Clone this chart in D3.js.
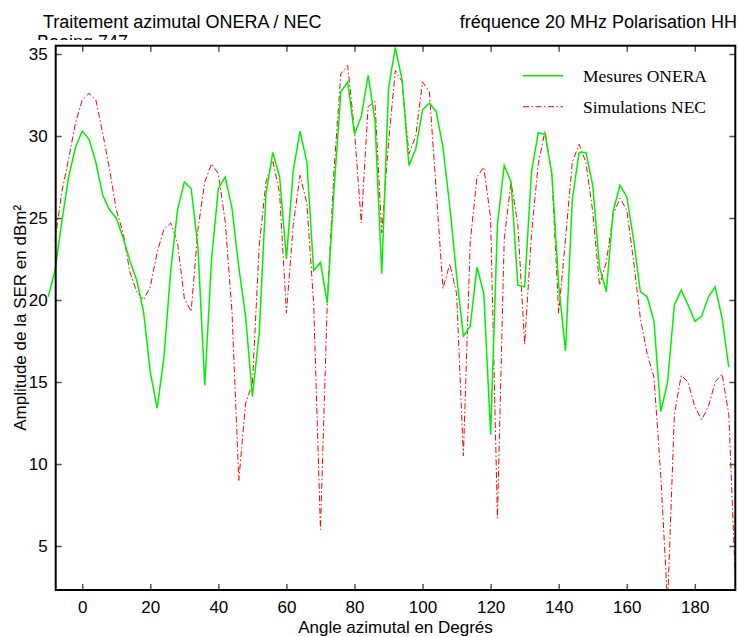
<!DOCTYPE html>
<html>
<head>
<meta charset="utf-8">
<script src="https://cdn.jsdelivr.net/npm/d3@7"></script>
<style>
  body { margin: 0; background: #fff; }
  svg { display: block; }
  .lbl { font-family: "Liberation Sans", Arial, sans-serif; font-size: 17px; fill: #000; }
  .ttl { font-family: "Liberation Sans", Arial, sans-serif; font-size: 18px; fill: #000; }
  .leg { font-family: "Liberation Serif", "Times New Roman", serif; font-size: 17.5px; fill: #000; }
</style>
</head>
<body>
<svg id="chart" width="738" height="637"></svg>
<script>
"use strict";

// green series: ONERA measurements, every 2 degrees from -10 to 190
const mesuresStart = -10;
const mesures = [
  20.2, 21.8, 24.8, 27.5, 29.3, 30.3, 29.8, 28.4, 26.4, 25.5,
  25.0, 23.8, 22.4, 21.2, 19.3, 15.6, 13.4, 16.5, 21.8, 25.5,
  27.2, 26.8, 23.2, 14.8, 22.5, 26.8, 27.5, 25.6, 22.0, 19.0,
  14.1, 18.0, 26.5, 29.0, 27.5, 22.5, 27.9, 30.3, 28.4, 21.8,
  22.3, 19.8, 26.8, 32.7, 33.3, 30.1, 31.2, 33.7, 31.0, 21.6,
  32.9, 35.4, 33.4, 28.2, 29.2, 31.6, 32.0, 31.5, 29.3, 25.7,
  21.5, 17.8, 18.4, 22.0, 20.4, 11.8, 24.6, 28.2, 27.2, 20.9,
  20.8, 27.8, 30.2, 30.1, 27.7, 20.9, 16.9, 26.1, 29.0, 29.0,
  27.0, 22.0, 20.5, 25.4, 27.0, 26.3, 23.7, 20.5, 20.2, 18.7,
  13.2, 15.0, 19.7, 20.6, 19.7, 18.7, 19.0, 20.2, 20.8, 18.9,
  15.9
];

// red series: NEC simulations, every 2 degrees from -8 to 192
const simStart = -8;
const simulations = [
  23.6, 26.6, 28.6, 30.8, 32.2, 32.6, 32.2, 30.2, 28.0, 25.5,
  24.1, 21.7, 20.5, 20.0, 20.8, 22.9, 24.3, 24.7, 23.5, 20.1,
  19.3, 24.3, 27.2, 28.3, 27.7, 24.8, 19.3, 9.0, 13.7, 14.9,
  23.3, 27.2, 28.5, 26.5, 19.2, 24.6, 27.6, 25.9, 19.8, 6.0,
  19.8, 28.0, 33.8, 34.3, 30.3, 24.7, 31.8, 32.1, 24.1, 29.6,
  34.0, 33.3, 28.9, 30.0, 33.3, 32.7, 26.7, 20.7, 22.2, 20.4,
  10.5, 23.5, 27.5, 28.1, 25.0, 6.7, 23.7, 27.2, 24.6, 17.3,
  24.0, 28.3, 30.3, 27.6, 19.2, 23.7, 28.4, 29.5, 28.4, 25.4,
  20.9, 22.3, 25.2, 26.2, 25.5, 22.4, 18.9, 16.7, 15.3, 9.3,
  1.5, 13.0, 15.4, 15.0, 13.5, 12.7, 13.5, 15.0, 15.5, 13.0,
  2.5
];

const xTicks = [0, 20, 40, 60, 80, 100, 120, 140, 160, 180];
const yTicks = [5, 10, 15, 20, 25, 30, 35];
const seriesNames = ["Mesures ONERA", "Simulations NEC"];

const dataM = mesures.map((v, i) => ({ a: mesuresStart + 2 * i, v: v }));
const dataS = simulations.map((v, i) => ({ a: simStart + 2 * i, v: v }));

const box = { left: 55.7, right: 735.3, top: 45.7, bottom: 590 };

const xScale = d3.scaleLinear().domain([-7.8, 191.9]).range([box.left, box.right]);
const yScale = d3.scaleLinear().domain([2.317, 35.506]).range([box.bottom, box.top]);

const svg = d3.select("#chart");

// titles (second line is mostly hidden under the axes)
svg.append("text").attr("class", "ttl").attr("x", 43).attr("y", 28)
    .text("Traitement azimutal ONERA / NEC");
svg.append("text").attr("class", "ttl").attr("x", 737).attr("y", 28)
    .attr("text-anchor", "end").text("fréquence 20 MHz Polarisation HH");

svg.append("clipPath").attr("id", "subclip")
    .append("rect").attr("x", 0).attr("y", 0).attr("width", 300).attr("height", 40);
svg.append("text").attr("class", "ttl").attr("x", 37).attr("y", 48)
    .attr("clip-path", "url(#subclip)").text("Boeing 747");

// lines, clipped only at the bottom
svg.append("clipPath").attr("id", "plotclip")
    .append("rect").attr("x", 0).attr("y", box.top)
    .attr("width", 738).attr("height", box.bottom - box.top);

const line = d3.line()
    .x(d => xScale(d.a))
    .y(d => yScale(d.v));

const plot = svg.append("g").attr("clip-path", "url(#plotclip)");

plot.append("path")
    .datum(dataS)
    .attr("fill", "none")
    .attr("stroke", "#ff0000")
    .attr("stroke-width", 1)
    .attr("stroke-dasharray", "6,2.5,1.5,2.5")
    .attr("d", line);

plot.append("path")
    .datum(dataM)
    .attr("fill", "none")
    .attr("stroke", "#00f000")
    .attr("stroke-width", 1.5)
    .attr("d", line);

// axes with inward ticks on all four sides
const styleTicks = g => {
    g.select(".domain").remove();
    g.selectAll("line").attr("stroke", "#555").attr("stroke-width", 1.5);
    g.selectAll("text").attr("class", "lbl");
    g.attr("font-size", null).attr("font-family", null);
};

svg.append("g")
    .attr("transform", "translate(0," + box.bottom + ")")
    .call(d3.axisBottom(xScale).tickValues(xTicks).tickSizeInner(-6).tickSizeOuter(0).tickPadding(11))
    .call(styleTicks);

svg.append("g")
    .attr("transform", "translate(0," + box.top + ")")
    .call(d3.axisTop(xScale).tickValues(xTicks).tickSizeInner(-6).tickSizeOuter(0).tickFormat(""))
    .call(styleTicks);

svg.append("g")
    .attr("transform", "translate(" + box.left + ",0)")
    .call(d3.axisLeft(yScale).tickValues(yTicks).tickSizeInner(-6).tickSizeOuter(0).tickPadding(8))
    .call(styleTicks);

svg.append("g")
    .attr("transform", "translate(" + box.right + ",0)")
    .call(d3.axisRight(yScale).tickValues(yTicks).tickSizeInner(-6).tickSizeOuter(0).tickFormat(""))
    .call(styleTicks);

svg.append("rect")
    .attr("x", box.left).attr("y", box.top)
    .attr("width", box.right - box.left).attr("height", box.bottom - box.top)
    .attr("fill", "none").attr("stroke", "#000").attr("stroke-width", 2);

// axis labels
svg.append("text").attr("class", "lbl")
    .attr("x", (box.left + box.right) / 2).attr("y", 633)
    .attr("text-anchor", "middle")
    .text("Angle azimutal en Degrés");

svg.append("text").attr("class", "lbl")
    .attr("transform", "translate(26," + (box.top + box.bottom) / 2 + ") rotate(-90)")
    .attr("text-anchor", "middle")
    .text("Amplitude de la SER en dBm²");

// legend
const legend = svg.append("g");
const legStyles = [
  { stroke: "#00f000", width: 1.5, dash: null },
  { stroke: "#ff0000", width: 1, dash: "6,2.5,1.5,2.5" }
];
seriesNames.forEach((name, i) => {
    const y = 75.7 + i * 31;
    legend.append("line")
        .attr("x1", 523).attr("x2", 563).attr("y1", y).attr("y2", y)
        .attr("stroke", legStyles[i].stroke)
        .attr("stroke-width", legStyles[i].width)
        .attr("stroke-dasharray", legStyles[i].dash);
    legend.append("text").attr("class", "leg")
        .attr("x", 583).attr("y", y + 6)
        .text(name);
});
</script>
</body>
</html>
